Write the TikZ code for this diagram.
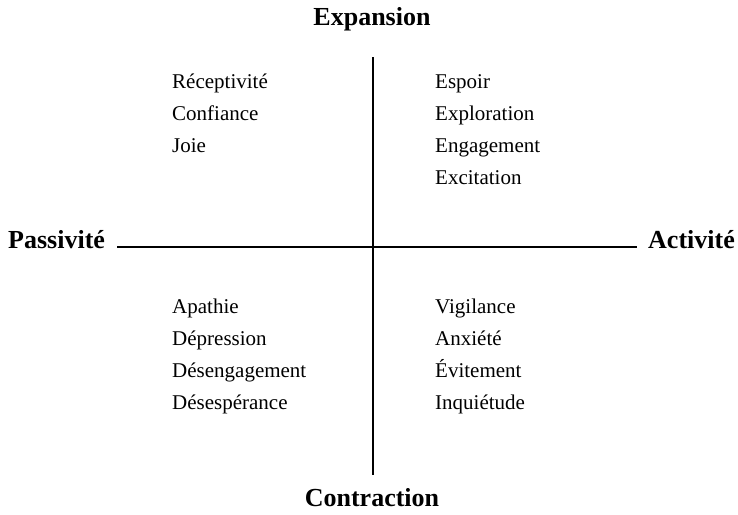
\documentclass[tikz,border=0pt]{standalone}
\usepackage{fontspec}
\setmainfont{Liberation Serif}
\begin{document}
\begin{tikzpicture}[x=1pt,y=-1pt,
  axis/.style={line width=2pt,black},
  pole/.style={font=\fontsize{26}{30}\selectfont\bfseries,inner sep=0pt},
  item/.style={font=\fontsize{21}{25}\selectfont,inner sep=0pt,anchor=base west}]
\useasboundingbox (0,0) rectangle (738,514);
% axes
\coordinate (vtop) at (373,57);
\coordinate (vbot) at (373,475);
\coordinate (hleft) at (117,247);
\coordinate (hright) at (637,247);
\draw[axis] (vtop) -- (vbot);
\draw[axis] (hleft) -- (hright);
% pole labels
\node[pole,anchor=base] (expansion) at (372,25) {Expansion};
\node[pole,anchor=base] (contraction) at (372,506) {Contraction};
\node[pole,anchor=base west] (passivite) at (8,248) {Passivité};
\node[pole,anchor=base east] (activite) at (735,248) {Activité};
% upper left quadrant
\node[item] (q1a) at (172,88) {Réceptivité};
\node[item] (q1b) at (172,120) {Confiance};
\node[item] (q1c) at (172,152) {Joie};
% upper right quadrant
\node[item] (q2a) at (435,88) {Espoir};
\node[item] (q2b) at (435,120) {Exploration};
\node[item] (q2c) at (435,152) {Engagement};
\node[item] (q2d) at (435,184) {Excitation};
% lower left quadrant
\node[item] (q3a) at (172,313) {Apathie};
\node[item] (q3b) at (172,345) {Dépression};
\node[item] (q3c) at (172,377) {Désengagement};
\node[item] (q3d) at (172,409) {Désespérance};
% lower right quadrant
\node[item] (q4a) at (435,313) {Vigilance};
\node[item] (q4b) at (435,345) {Anxiété};
\node[item] (q4c) at (435,377) {Évitement};
\node[item] (q4d) at (435,409) {Inquiétude};
\end{tikzpicture}
\end{document}
